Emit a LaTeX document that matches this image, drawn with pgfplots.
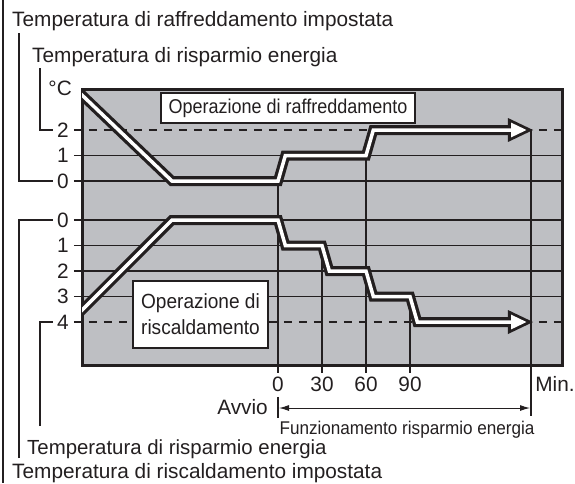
\documentclass[border=0pt]{standalone}
\usepackage{pgfplots}
\pgfplotsset{compat=1.18}
\usepackage{fontspec}
\setmainfont{Liberation Sans}
\newfontfamily\narrowfont[FakeStretch=0.9]{Liberation Sans}
\newfontfamily\heatfont[FakeStretch=0.93]{Liberation Sans}
\newfontfamily\narrowerfont[FakeStretch=0.93]{Liberation Sans}
\usetikzlibrary{arrows.meta}
\definecolor{bg}{RGB}{190,191,195}
\definecolor{ink}{RGB}{35,31,32}
\begin{document}
\begin{tikzpicture}[font=\fontsize{20.8}{25}\selectfont, text=ink]
\begin{axis}[
  scale only axis, width=480pt, height=276pt,
  xmin=-133.636, xmax=193.636, ymin=-7.2157, ymax=3.6078,
  xtick=\empty, ytick=\empty,
  axis background/.style={fill=bg},
  axis line style={line width=3pt, draw=ink},
  clip mode=individual,
]
\coordinate (O) at (axis cs:-189.545,7.098);
% horizontal reference lines (cooling: 2,1,0 ; heating: 0..4 at -1.53-k)
\draw[ink, line width=1.2pt] (axis cs:-139.1,1) -- (axis cs:193.6,1);
\draw[ink, line width=1.2pt] (axis cs:-139.1,0) -- (axis cs:193.6,0);
\draw[ink, line width=1.2pt] (axis cs:-139.1,-1.53) -- (axis cs:193.6,-1.53);
\draw[ink, line width=1.2pt] (axis cs:-139.1,-2.53) -- (axis cs:193.6,-2.53);
\draw[ink, line width=1.2pt] (axis cs:-139.1,-3.53) -- (axis cs:193.6,-3.53);
\draw[ink, line width=1.2pt] (axis cs:-139.1,-4.53) -- (axis cs:193.6,-4.53);
\draw[ink, line width=1.2pt, dash pattern=on 8pt off 7pt] (axis cs:-139.1,2) -- (axis cs:193.6,2);
\draw[ink, line width=1.2pt, dash pattern=on 8pt off 7pt] (axis cs:-139.1,-5.53) -- (axis cs:193.6,-5.53);
% vertical time lines
\draw[ink, line width=1.2pt] (axis cs:0,0) -- (axis cs:0,-7.53);
\draw[ink, line width=1.2pt] (axis cs:30,-2.53) -- (axis cs:30,-7.53);
\draw[ink, line width=1.2pt] (axis cs:60,1) -- (axis cs:60,-7.53);
\draw[ink, line width=1.2pt] (axis cs:90,-4.53) -- (axis cs:90,-7.53);
\draw[ink, line width=1.2pt] (axis cs:172.5,2) -- (axis cs:172.5,-9.22);
\draw[ink, line width=1.2pt] (axis cs:0,-8.47) -- (axis cs:0,-9.29);
% curves: black outline
\addplot[ink, line width=10pt, line join=miter, mark=none] coordinates {(-140,3.72) (-72.3,0) (0,0) (5,1) (60,1) (65,2) (157.5,2)};
\addplot[ink, line width=10pt, line join=miter, mark=none] coordinates {(-140,-5.43) (-72.3,-1.53) (0,-1.53) (5,-2.53) (30,-2.53) (35,-3.53) (60,-3.53) (65,-4.53) (90,-4.53) (95,-5.53) (157.5,-5.53)};
\addplot[fill=ink, draw=none, mark=none] coordinates {(156.8,2.47) (173.9,2) (156.8,1.53) (156.8,2.47)};
\addplot[fill=ink, draw=none, mark=none] coordinates {(156.8,-5.06) (173.9,-5.53) (156.8,-6.0) (156.8,-5.06)};
% curves: white core
\addplot[white, line width=3.5pt, line join=miter, mark=none] coordinates {(-140,3.72) (-72.3,0) (0,0) (5,1) (60,1) (65,2) (160,2)};
\addplot[white, line width=3.5pt, line join=miter, mark=none] coordinates {(-140,-5.43) (-72.3,-1.53) (0,-1.53) (5,-2.53) (30,-2.53) (35,-3.53) (60,-3.53) (65,-4.53) (90,-4.53) (95,-5.53) (160,-5.53)};
\addplot[fill=white, draw=none, mark=none] coordinates {(158.9,2.29) (169.4,2) (158.9,1.71) (158.9,2.29)};
\addplot[fill=white, draw=none, mark=none] coordinates {(158.9,-5.24) (169.4,-5.53) (158.9,-5.82) (158.9,-5.24)};
\end{axis}
\begin{scope}[shift={(O)}, x=1pt, y=-1pt]
  % left frame
  \draw[ink, line width=2pt] (3,0) -- (3,483);
  % leaders
  \draw[ink, line width=1.5pt] (19,33) -- (19,181) -- (53,181);
  \draw[ink, line width=1.5pt] (40,68) -- (40,130) -- (53,130);
  \draw[ink, line width=1.5pt] (40,426) -- (40,322) -- (53,322);
  \draw[ink, line width=1.5pt] (19,458) -- (19,220) -- (53,220);
  % outer labels
  \node[anchor=base west, inner sep=0] at (12,27) {Temperatura di raffreddamento impostata};
  \node[anchor=base west, inner sep=0] at (32,62) {Temperatura di risparmio energia};
  \node[anchor=base west, inner sep=0, font=\fontsize{20.4}{25}\selectfont] at (27,454) {Temperatura di risparmio energia};
  \node[anchor=base west, inner sep=0] at (12,478) {Temperatura di riscaldamento impostata};
  % y labels
  \node[anchor=east, inner sep=0] at (72,88) {°C};
  \node[anchor=east, inner sep=0] at (69,130) {2};
  \node[anchor=east, inner sep=0] at (69,155.5) {1};
  \node[anchor=east, inner sep=0] at (69,181) {0};
  \node[anchor=east, inner sep=0] at (69,220) {0};
  \node[anchor=east, inner sep=0] at (69,245.5) {1};
  \node[anchor=east, inner sep=0] at (69,271) {2};
  \node[anchor=east, inner sep=0] at (69,296.5) {3};
  \node[anchor=east, inner sep=0] at (69,322) {4};
  % x labels
  \node[anchor=base, inner sep=0] at (278,391) {0};
  \node[anchor=base, inner sep=0] at (322,391) {30};
  \node[anchor=base, inner sep=0] at (366,391) {60};
  \node[anchor=base, inner sep=0] at (410,391) {90};
  \node[anchor=base, inner sep=0] at (555,391) {Min.};
  \node[anchor=base east, inner sep=0] at (268,414) {Avvio};
  \draw[ink, line width=1pt, {Latex[length=10pt,width=6pt]}-{Latex[length=10pt,width=6pt]}] (279,408) -- (530,408);
  \node[anchor=base, inner sep=0, font=\narrowerfont\fontsize{18.4}{22}\selectfont] at (407,434) {Funzionamento risparmio energia};
  % boxes
  \draw[ink, fill=white, line width=1.3pt] (161,93) rectangle (415,123);
  \node[inner sep=0, font=\narrowfont\fontsize{20}{24}\selectfont] at (288,108) {Operazione di raffreddamento};
  \draw[ink, fill=white, line width=1.3pt] (133,281) rectangle (268,348);
  \node[inner sep=0, align=center, font=\heatfont\fontsize{20.5}{26}\selectfont] at (200.5,314.5) {Operazione di\\riscaldamento};
\end{scope}
\pgfresetboundingbox
\path (O) rectangle ++(575pt,-483pt);
\end{tikzpicture}
\end{document}
